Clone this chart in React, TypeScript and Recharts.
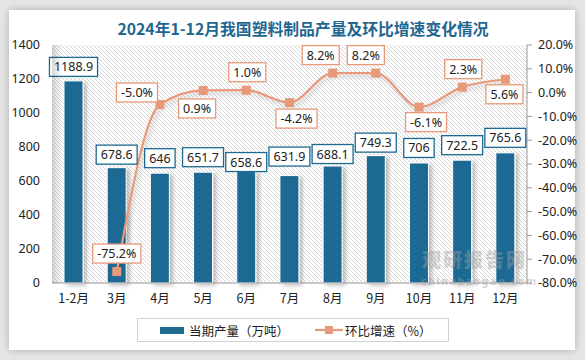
import React from 'react';
import { ComposedChart, Bar, Line, XAxis, YAxis, CartesianGrid, LabelList } from 'recharts';

const months = ['1-2月', '3月', '4月', '5月', '6月', '7月', '8月', '9月', '10月', '11月', '12月'];
const output = [1188.9, 678.6, 646, 651.7, 658.6, 631.9, 688.1, 749.3, 706, 722.5, 765.6];
const growth = [null, -75.2, -5.0, 0.9, 1.0, -4.2, 8.2, 8.2, -6.1, 2.3, 5.6];
const leftTicks = [0, 200, 400, 600, 800, 1000, 1200, 1400];
const rightTicks = [-80, -70, -60, -50, -40, -30, -20, -10, 0, 10, 20];

// label placement (box centre relative to the point / bar top)
const lineLabelShift = [[0, 0], [0, -18], [-23, -12], [-6, 18], [1, -18], [7, 16], [-12, -18], [-10, -18], [7, 15], [1, -18], [-1, 15]];
const barLabelShift = [0, 1, -1, -1, 5, -5, 2, 1, -1, -1, -1];

const BLUE = '#1D6A93';
const ORANGE = '#E8997A';
const FONT = '"Noto Sans", "Noto Sans CJK SC", sans-serif';
const CJK = '"Noto Sans CJK SC", sans-serif';

const data = months.map((m, i) => ({ month: m, output: output[i], growth: growth[i] }));

let ctx: CanvasRenderingContext2D | null = null;
function textWidth(s: string, font: string) {
  if (!ctx) ctx = document.createElement('canvas').getContext('2d');
  if (!ctx) return s.length * 7;
  ctx.font = font;
  return ctx.measureText(s).width;
}

const LabelBox = ({ cx, cy, text, border }: { cx: number; cy: number; text: string; border: string }) => {
  const w = textWidth(text, `12.5px ${FONT}`) + 9;
  const h = 19;
  return (
    <g>
      <rect x={cx - w / 2} y={cy - h / 2} width={w} height={h} fill="#fff" stroke={border} strokeWidth={1.3} />
      <text x={cx} y={cy} dy="0.36em" textAnchor="middle" fontSize={12.5} fontFamily={FONT} fill="#222">
        {text}
      </text>
    </g>
  );
};

const BarLabel = (props: any) => {
  const { x, y, width, value, index } = props;
  if (value == null) return null;
  return <LabelBox cx={x + width / 2} cy={y - 14 + barLabelShift[index]} text={String(value)} border={BLUE} />;
};

const LineLabel = (props: any) => {
  const { x, y, value, index } = props;
  if (value == null) return null;
  const [dx, dy] = lineLabelShift[index];
  return <LabelBox cx={x + dx} cy={y + dy} text={`${Number(value).toFixed(1)}%`} border={ORANGE} />;
};

const SquareDot = (props: any) => {
  const { cx, cy, value, index } = props;
  if (value == null || cx == null || cy == null) return <g key={index} />;
  return <rect key={index} x={cx - 4.5} y={cy - 4.5} width={9} height={9} fill={ORANGE} />;
};

const ShadowBar = (props: any) => {
  const { x, y, width, height } = props;
  return <rect x={x} y={y} width={width} height={height} fill={BLUE} stroke="#fff" strokeWidth={1} filter="url(#barShadow)" />;
};

export default function App() {
  return (
    <div style={{ position: 'relative', width: 585, height: 360, background: '#e6e6e6', overflow: 'hidden' }}>
      <style>{'body{margin:0}'}</style>
      <svg width={0} height={0} style={{ position: 'absolute' }}>
        <defs>
          <pattern id="hatch" width={4} height={4} patternUnits="userSpaceOnUse">
            <rect width={4} height={4} fill="#fff" />
            <path d="M0,0 L4,4 M-1,3 L1,5 M3,-1 L5,1" stroke="#d2d2d2" strokeWidth={0.9} />
          </pattern>
          <filter id="barShadow" x="-30%" y="-10%" width="160%" height="120%">
            <feDropShadow dx={3} dy={2} stdDeviation={2} floodColor="#000" floodOpacity={0.25} />
          </filter>
          <filter id="lineShadow" x="-10%" y="-10%" width="120%" height="130%">
            <feDropShadow dx={2} dy={3} stdDeviation={2} floodColor="#000" floodOpacity={0.2} />
          </filter>
        </defs>
      </svg>
      <div
        style={{
          position: 'absolute', left: 9, top: 10, width: 566, height: 340, background: '#fff',
          boxShadow: '0 0 8px rgba(0,0,0,0.25)',
        }}
      />
      <div
        style={{
          position: 'absolute', left: 0, top: 17, width: 606, textAlign: 'center', fontFamily: CJK,
          fontWeight: 700, fontSize: 15.8, color: '#1F6690', lineHeight: '24px',
        }}
      >
        2024年1-12月我国塑料制品产量及环比增速变化情况
      </div>
      <div style={{ position: 'absolute', left: 0, top: 0 }}>
        <ComposedChart width={585} height={360} data={data} margin={{ top: 45, right: 0, bottom: 47, left: 0 }}>
          <CartesianGrid yAxisId="left" horizontal={false} vertical={false} fill="url(#hatch)" fillOpacity={1} />
          <XAxis
            dataKey="month"
            height={30}
            tickLine={false}
            axisLine={{ stroke: '#999' }}
            tick={{ fontSize: 12.5, fill: '#222', fontFamily: CJK }}
            tickMargin={5}
            interval={0}
          />
          <YAxis
            yAxisId="left"
            width={52}
            domain={[0, 1400]}
            ticks={leftTicks}
            axisLine={false}
            tickLine={false}
            tickMargin={6}
            tick={{ fontSize: 12.5, fill: '#222', fontFamily: FONT }}
          />
          <YAxis
            yAxisId="right"
            orientation="right"
            width={58}
            domain={[-80, 20]}
            ticks={rightTicks}
            axisLine={{ stroke: '#999' }}
            tickLine={{ stroke: '#999' }}
            tickSize={5}
            tickMargin={6}
            tickFormatter={(v: number) => `${v.toFixed(1)}%`}
            tick={{ fontSize: 12.5, fill: '#222', fontFamily: FONT, textAnchor: 'start' }}
          />
          <Bar yAxisId="left" dataKey="output" barSize={19} fill={BLUE} shape={<ShadowBar />} isAnimationActive={false}>
            <LabelList dataKey="output" content={<BarLabel />} />
          </Bar>
          <Line
            yAxisId="right"
            type="monotone"
            dataKey="growth"
            stroke={ORANGE}
            strokeWidth={2.2}
            dot={<SquareDot />}
            activeDot={false}
            filter="url(#lineShadow)"
            isAnimationActive={false}
          >
            <LabelList dataKey="growth" content={<LineLabel />} />
          </Line>
        </ComposedChart>
      </div>
      <div style={{ position: 'absolute', left: 52, top: 45, width: 10, height: 238, background: 'linear-gradient(to right, rgba(0,0,0,0.16), rgba(0,0,0,0))' }} />
      <div
        style={{
          position: 'absolute', left: 422, top: 249, fontFamily: CJK, fontWeight: 900, fontSize: 19,
          color: 'rgba(160,160,160,0.45)', letterSpacing: 2, lineHeight: '19px', height: 19,
        }}
      >
        观研报告网
      </div>
      <div
        style={{
          position: 'absolute', left: 421, top: 276, fontFamily: FONT, fontSize: 10.5, fontWeight: 700,
          color: 'rgba(160,160,160,0.45)', letterSpacing: 1.6, lineHeight: '10px', height: 10,
        }}
      >
        chinabaogao.com
      </div>
      <div
        style={{
          position: 'absolute', left: 137, top: 318, width: 312, height: 24, boxSizing: 'border-box',
          border: '1px solid #d0d0d0', display: 'flex', alignItems: 'center', fontFamily: CJK,
          fontSize: 12.5, color: '#222',
        }}
      >
        <span style={{ display: 'inline-block', width: 24, height: 7, background: BLUE, marginLeft: 22, marginRight: 5 }} />
        <span>当期产量（万吨）</span>
        <svg width={28} height={10} style={{ marginLeft: 26, marginRight: 2 }}>
          <line x1={0} y1={5} x2={28} y2={5} stroke={ORANGE} strokeWidth={2.2} />
          <rect x={10} y={1} width={8} height={8} fill={ORANGE} />
        </svg>
        <span>环比增速（%）</span>
      </div>
    </div>
  );
}
